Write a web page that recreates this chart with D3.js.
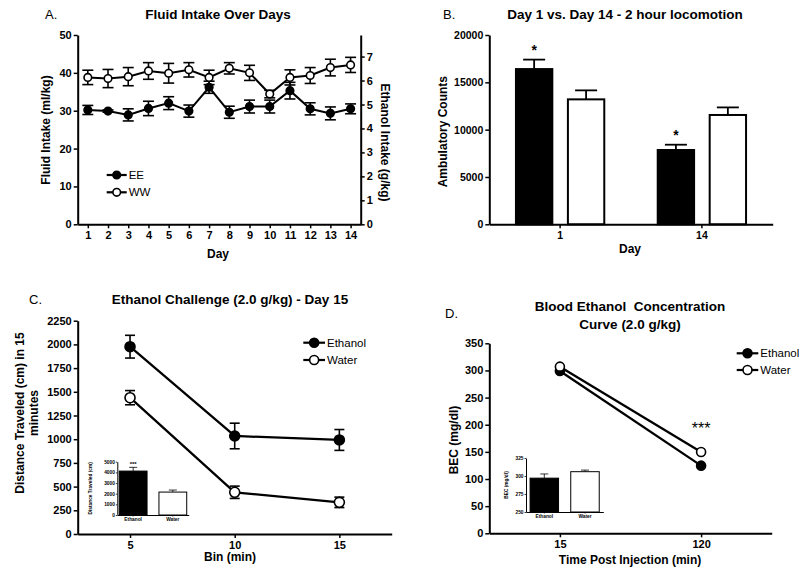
<!DOCTYPE html>
<html>
<head>
<meta charset="utf-8">
<script src="https://cdn.jsdelivr.net/npm/d3@7"></script>
<style>
body { margin: 0; background: #fff; }
svg { display: block; }
</style>
</head>
<body>
<script>
var FONT = '"Liberation Sans", Arial, Helvetica, sans-serif'

// A. fluid intake over days
var days = [1, 2, 3, 4, 5, 6, 7, 8, 9, 10, 11, 12, 13, 14]
var eeIntake = [30.2, 29.9, 28.9, 30.6, 32.0, 29.9, 36.2, 29.6, 31.1, 31.1, 35.3, 30.5, 29.3, 30.5]
var eeErr = [1.2, 0.3, 1.6, 1.9, 1.7, 1.6, 1.6, 1.6, 1.7, 1.7, 2.2, 1.6, 1.7, 1.3]
var wwIntake = [38.8, 38.5, 39.0, 40.5, 39.9, 40.8, 38.8, 41.2, 40.0, 34.4, 38.8, 39.3, 41.4, 42.1]
var wwErr = [1.9, 2.4, 2.4, 2.2, 2.6, 1.9, 1.9, 1.5, 2.0, 1.0, 2.0, 2.1, 2.2, 2.0]
var fluidTicks = [0, 10, 20, 30, 40, 50]
var ethanolTicks = [0, 1, 2, 3, 4, 5, 6, 7]

// B. locomotion day 1 vs day 14
var locoDays = ['1', '14']
var locoGroups = ['EE', 'WW']
var locoEE = [16400, 7850]
var locoEEErr = [1000, 560]
var locoWW = [13200, 11550]
var locoWWErr = [950, 800]
var locoTicks = [0, 5000, 10000, 15000, 20000]

// C. ethanol challenge
var bins = [5, 10, 15]
var chalEthanol = [1976, 1034, 992]
var chalEthanolErr = [120, 135, 110]
var chalWater = [1438, 440, 334]
var chalWaterErr = [75, 65, 55]
var chalTicks = [0, 250, 500, 750, 1000, 1250, 1500, 1750, 2000, 2250]
var insetGroups = ['Ethanol', 'Water']
var chalTotal = [4120, 2150]
var chalTotalErr = [350, 190]
var chalTotalTicks = [0, 1000, 2000, 3000, 4000, 5000]

// D. blood ethanol concentration
var becTimes = ['15', '120']
var becEthanol = [299, 124.6]
var becWater = [307, 149.8]
var becTicks = [0, 50, 100, 150, 200, 250, 300, 350]
var becInset = [297, 306]
var becInsetErr = [5.8, 2.2]
var becInsetTicks = [250, 275, 300, 325]

var svg = d3.select('body').append('svg')
  .attr('width', 799).attr('height', 572)

function style_axis(g, size, lw){
  g.attr('font-family', FONT)
  g.select('.domain').attr('stroke-width', lw)
  g.selectAll('.tick line').attr('stroke-width', lw * 0.75)
  g.selectAll('.tick text').attr('font-size', size).attr('font-weight', 'bold').attr('fill', '#000')
  return g
}

function label(x, y, txt, size, weight, anchor, rot){
  var t = svg.append('text')
    .attr('font-family', FONT)
    .attr('font-size', size)
    .attr('font-weight', weight || 'bold')
    .attr('text-anchor', anchor || 'middle')
    .style('white-space', 'pre')
    .text(txt)
  if(rot){
    t.attr('transform', 'translate(' + x + ',' + y + ') rotate(' + rot + ')')
  }else{
    t.attr('x', x).attr('y', y)
  }
  return t
}

// vertical error bars with caps
function err_bars(xs, ys, errs, y, cap, lw, upOnly){
  var g = svg.append('g').attr('stroke', '#000').attr('stroke-width', lw).attr('fill', 'none')
  xs.forEach(function(x, i){
    var top = y(ys[i] + errs[i])
    var bot = upOnly ? y(ys[i]) : y(ys[i] - errs[i])
    g.append('line').attr('x1', x).attr('x2', x).attr('y1', top).attr('y2', bot)
    g.append('line').attr('x1', x - cap / 2).attr('x2', x + cap / 2).attr('y1', top).attr('y2', top)
    if(!upOnly)
      g.append('line').attr('x1', x - cap / 2).attr('x2', x + cap / 2).attr('y1', bot).attr('y2', bot)
  })
}

function series(xs, ys, r, filled, lw){
  var pts = xs.map(function(x, i){ return [x, ys[i]] })
  svg.append('path').datum(pts)
    .attr('d', d3.line())
    .attr('fill', 'none').attr('stroke', '#000').attr('stroke-width', lw)
  svg.append('g').selectAll('circle').data(pts).enter().append('circle')
    .attr('cx', function(d){ return d[0] })
    .attr('cy', function(d){ return d[1] })
    .attr('r', r)
    .attr('fill', filled ? '#000' : '#fff')
    .attr('stroke', '#000').attr('stroke-width', 1.6)
}

function legend_item(x1, x2, y, r, filled, txt, size){
  svg.append('line').attr('x1', x1).attr('x2', x2).attr('y1', y).attr('y2', y)
    .attr('stroke', '#000').attr('stroke-width', 2.2)
  svg.append('circle').attr('cx', (x1 + x2) / 2).attr('cy', y).attr('r', r)
    .attr('fill', filled ? '#000' : '#fff').attr('stroke', '#000').attr('stroke-width', 1.6)
  label(x2 + 2, y + size * 0.36, txt, size, 'normal', 'start')
}

// ---------- panel A ----------
function panel_a(){
  var x = d3.scaleLinear().domain([0.5, 14.5]).range([77.7, 360.7])
  var y = d3.scaleLinear().domain([0, 50]).range([224.3, 35])
  var y2 = d3.scaleLinear().domain([0, 7.9]).range([224.3, 35])

  style_axis(svg.append('g').attr('transform', 'translate(0,224.3)')
    .call(d3.axisBottom(x).tickValues(days).tickFormat(d3.format('d')).tickSize(4).tickPadding(3).tickSizeOuter(0)), 11, 2)
  style_axis(svg.append('g').attr('transform', 'translate(77.7,0)')
    .call(d3.axisLeft(y).tickValues(fluidTicks).tickSize(4).tickPadding(2).tickSizeOuter(0)), 11, 2)
  style_axis(svg.append('g').attr('transform', 'translate(360.7,0)')
    .call(d3.axisRight(y2).tickValues(ethanolTicks).tickSize(4).tickPadding(2).tickSizeOuter(0)), 11, 2)

  var xs = days.map(x)
  err_bars(xs, wwIntake, wwErr, y, 11, 1.6)
  err_bars(xs, eeIntake, eeErr, y, 11, 1.6)
  series(xs, wwIntake.map(y), 3.8, false, 2)
  series(xs, eeIntake.map(y), 3.8, true, 2)

  legend_item(106.7, 126.7, 175, 3.8, true, 'EE', 11.5)
  legend_item(106.7, 126.7, 192.3, 3.8, false, 'WW', 11.5)

  label(45, 18.7, 'A.', 13, 'normal', 'start')
  label(218, 18.7, 'Fluid Intake Over Days', 13.5)
  label(218, 257.5, 'Day', 12)
  label(50.3, 130, 'Fluid Intake (ml/kg)', 12, 'bold', 'middle', -90)
  label(380.7, 142.5, 'Ethanol Intake (g/kg)', 12, 'bold', 'middle', 90)
}

// ---------- panel B ----------
function panel_b(){
  var x0 = d3.scaleBand().domain(locoDays).range([489.3, 772.7]).paddingInner(0.377).paddingOuter(0.188)
  var x1 = d3.scaleBand().domain(locoGroups).range([0, x0.bandwidth()]).paddingInner(0.3)
  var y = d3.scaleLinear().domain([0, 20000]).range([224.3, 35])

  var bars = []
  locoDays.forEach(function(d, i){
    bars.push({day: d, grp: 'EE', v: locoEE[i], e: locoEEErr[i]})
    bars.push({day: d, grp: 'WW', v: locoWW[i], e: locoWWErr[i]})
  })
  var bx = function(b){ return x0(b.day) + x1(b.grp) }

  err_bars(bars.map(function(b){ return bx(b) + x1.bandwidth() / 2 }),
    bars.map(function(b){ return b.v }), bars.map(function(b){ return b.e }), y, 22, 1.8, true)

  svg.append('g').selectAll('rect').data(bars).enter().append('rect')
    .attr('x', bx)
    .attr('y', function(b){ return y(b.v) })
    .attr('width', x1.bandwidth())
    .attr('height', function(b){ return y(0) - y(b.v) })
    .attr('fill', function(b){ return b.grp === 'EE' ? '#000' : '#fff' })
    .attr('stroke', '#000').attr('stroke-width', 2)

  style_axis(svg.append('g').attr('transform', 'translate(0,224.3)')
    .call(d3.axisBottom(x0).tickSize(4).tickPadding(3).tickSizeOuter(0)), 10.5, 2)
  style_axis(svg.append('g').attr('transform', 'translate(489.3,0)')
    .call(d3.axisLeft(y).tickValues(locoTicks).tickFormat(d3.format('d')).tickSize(4).tickPadding(2).tickSizeOuter(0)), 10.5, 2)

  // significance marks over the EE bars
  bars.filter(function(b){ return b.grp === 'EE' }).forEach(function(b){
    label(bx(b) + x1.bandwidth() / 2, y(b.v + b.e) - 5, '*', 14)
  })

  label(443, 18.7, 'B.', 13, 'normal', 'start')
  label(625, 18.7, 'Day 1 vs. Day 14 - 2 hour locomotion', 13.5)
  label(630, 252.5, 'Day', 12)
  label(447, 131.7, 'Ambulatory Counts', 12, 'bold', 'middle', -90)
}

// inset bar chart shared by C and D
function inset(ox, oy, w, h, domain, ticks, vals, errs, ylabel, labelOff, padOuter, stars){
  var x = d3.scaleBand().domain(insetGroups).range([ox, ox + w]).paddingInner(0.3).paddingOuter(padOuter)
  var y = d3.scaleLinear().domain(domain).range([oy, oy - h])
  err_bars(insetGroups.map(function(g){ return x(g) + x.bandwidth() / 2 }), vals, errs, y, 8, 0.8, true)
  svg.append('g').selectAll('rect').data(vals).enter().append('rect')
    .attr('x', function(d, i){ return x(insetGroups[i]) })
    .attr('y', function(d){ return y(d) })
    .attr('width', x.bandwidth())
    .attr('height', function(d){ return oy - y(d) })
    .attr('fill', function(d, i){ return i === 0 ? '#000' : '#fff' })
    .attr('stroke', '#000').attr('stroke-width', 1)
  style_axis(svg.append('g').attr('transform', 'translate(0,' + oy + ')')
    .call(d3.axisBottom(x).tickSize(1.5).tickPadding(1.5).tickSizeOuter(0)), 4.8, 1)
  style_axis(svg.append('g').attr('transform', 'translate(' + ox + ',0)')
    .call(d3.axisLeft(y).tickValues(ticks).tickFormat(d3.format('d')).tickSize(1.5).tickPadding(1).tickSizeOuter(0)), 4.8, 1)
  label(ox - labelOff, oy - h / 2, ylabel, 4.8, 'bold', 'middle', -90)
  if(stars)
    label(x(insetGroups[0]) + x.bandwidth() / 2, y(vals[0] + errs[0]) - 1.5, stars, 6, 'bold')
}

// ---------- panel C ----------
function panel_c(){
  var x = d3.scaleLinear().domain([2.5, 17.5]).range([77.7, 391.7])
  var y = d3.scaleLinear().domain([0, 2250]).range([534, 320.7])

  style_axis(svg.append('g').attr('transform', 'translate(0,534)')
    .call(d3.axisBottom(x).tickValues(bins).tickSize(4).tickPadding(3).tickSizeOuter(0)), 11, 2)
  style_axis(svg.append('g').attr('transform', 'translate(77.7,0)')
    .call(d3.axisLeft(y).tickValues(chalTicks).tickFormat(d3.format('d')).tickSize(4).tickPadding(2).tickSizeOuter(0)), 11, 2)

  var xs = bins.map(x)
  err_bars(xs, chalEthanol, chalEthanolErr, y, 10, 1.6)
  err_bars(xs, chalWater, chalWaterErr, y, 10, 1.6)
  series(xs, chalEthanol.map(y), 5, true, 2.3)
  series(xs, chalWater.map(y), 5, false, 2.3)

  legend_item(303.3, 325, 342.7, 4.5, true, 'Ethanol', 11.5)
  legend_item(303.3, 325, 360, 4.5, false, 'Water', 11.5)

  inset(117.3, 515, 71.4, 53.3, [0, 5000], chalTotalTicks, chalTotal, chalTotalErr, 'Distance Traveled (cm)', 25, 0.05, '***')

  label(29, 304.3, 'C.', 13, 'normal', 'start')
  label(230, 304.3, 'Ethanol Challenge (2.0 g/kg) - Day 15', 13.5)
  label(230, 561, 'Bin (min)', 12)
  label(24.3, 413, 'Distance Traveled (cm) in 15', 12, 'bold', 'middle', -90)
  label(37.6, 413, 'minutes', 12, 'bold', 'middle', -90)
}

// ---------- panel D ----------
function panel_d(){
  var x = d3.scalePoint().domain(becTimes).range([489.3, 771.7]).padding(0.5)
  var y = d3.scaleLinear().domain([0, 350]).range([533.3, 343.3])

  style_axis(svg.append('g').attr('transform', 'translate(0,533.3)')
    .call(d3.axisBottom(x).tickSize(4).tickPadding(3).tickSizeOuter(0)), 11, 2)
  style_axis(svg.append('g').attr('transform', 'translate(489.3,0)')
    .call(d3.axisLeft(y).tickValues(becTicks).tickSize(4).tickPadding(2).tickSizeOuter(0)), 11, 2)

  var xs = becTimes.map(x)
  series(xs, becEthanol.map(y), 4.5, true, 2.3)
  series(xs, becWater.map(y), 4.5, false, 2.3)

  label(x('120'), y(becWater[1]) - 18, '***', 16, 'normal')

  legend_item(736.7, 758.3, 353.3, 4.5, true, 'Ethanol', 11.5)
  legend_item(736.7, 758.3, 370, 4.5, false, 'Water', 11.5)

  inset(526, 512, 77.3, 54, [250, 325], becInsetTicks, becInset, becInsetErr, 'BEC (mg/dl)', 18.5, 0.1)

  label(445, 318, 'D.', 13, 'normal', 'start')
  label(630, 311.4, 'Blood Ethanol  Concentration', 13.5)
  label(630, 328.7, 'Curve (2.0 g/kg)', 13.5)
  label(630, 564.3, 'Time Post Injection (min)', 12)
  label(457.6, 440, 'BEC (mg/dl)', 12, 'bold', 'middle', -90)
}

panel_a()
panel_b()
panel_c()
panel_d()
</script>
</body>
</html>
